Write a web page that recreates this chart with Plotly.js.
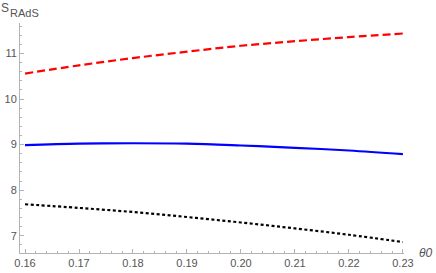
<!DOCTYPE html>
<html><head><meta charset="utf-8">
<script src="https://cdn.plot.ly/plotly-3.0.1.min.js"></script>
<style>html,body{margin:0;padding:0;background:#fff}#p{width:436px;height:273px}</style>
</head><body><div id="p"></div>
<script>
var theta = [0.16, 0.17, 0.18, 0.19, 0.20, 0.21, 0.22, 0.23];
var redDashed = [10.56, 10.74, 10.90, 11.04, 11.17, 11.27, 11.36, 11.44];
var blueSolid = [8.99, 9.02, 9.03, 9.02, 8.98, 8.93, 8.87, 8.79];
var blackDotted = [7.69, 7.61, 7.52, 7.41, 7.29, 7.16, 7.02, 6.86];
var xTicks = [0.16, 0.17, 0.18, 0.19, 0.20, 0.21, 0.22, 0.23];
var xTickText = ["0.16", "0.17", "0.18", "0.19", "0.20", "0.21", "0.22", "0.23"];
var yTicks = [7, 8, 9, 10, 11];

var traces = [
  {x: theta, y: redDashed, mode: 'lines', line: {color: '#ff0000', width: 2.2, dash: '8px,4px', shape: 'spline'}},
  {x: theta, y: blueSolid, mode: 'lines', line: {color: '#0000ff', width: 2.2, shape: 'spline'}},
  {x: theta, y: blackDotted, mode: 'lines', line: {color: '#000000', width: 2.2, dash: '3px,2.5px', shape: 'spline'}}
];
var axCol = '#b3b3b3';
var layout = {
  width: 436, height: 273,
  margin: {l: 20, r: 32, t: 23, b: 20},
  paper_bgcolor: '#fff', plot_bgcolor: '#fff',
  showlegend: false,
  font: {family: 'Liberation Sans, Arial, sans-serif', size: 11, color: '#666'},
  xaxis: {range: [0.15907, 0.2302], showgrid: false, zeroline: false, showline: true, linecolor: axCol, linewidth: 1,
    tickvals: xTicks, ticktext: xTickText, ticks: 'inside', ticklen: 4, tickcolor: axCol, tickwidth: 1,
    minor: {dtick: 0.002, ticks: 'inside', ticklen: 2, tickcolor: axCol, showgrid: false},
    tickfont: {size: 11, color: '#555'}, ticklabelstandoff: 0},
  yaxis: {range: [6.62, 11.67], showgrid: false, zeroline: false, showline: true, linecolor: axCol, linewidth: 1,
    tickvals: yTicks, ticks: 'inside', ticklen: 4, tickcolor: axCol, tickwidth: 1,
    minor: {dtick: 0.2, ticks: 'inside', ticklen: 2, tickcolor: axCol, showgrid: false},
    tickfont: {size: 11, color: '#555'}},
  annotations: [
    {xref: 'paper', yref: 'paper', x: -0.054, y: 1.105, xanchor: 'left', yanchor: 'top', showarrow: false,
     text: 'S', font: {size: 12, color: '#555'}},
    {xref: 'paper', yref: 'paper', x: -0.03, y: 1.08, xanchor: 'left', yanchor: 'top', showarrow: false,
     text: 'RAdS', font: {size: 11, color: '#555'}},
    {xref: 'paper', yref: 'paper', x: 1.035, y: 0.0, xanchor: 'left', yanchor: 'middle', showarrow: false,
     text: '<i>θ0</i>', font: {size: 12, color: '#555'}}
  ]
};
Plotly.newPlot('p', traces, layout, {staticPlot: true});
</script></body></html>
